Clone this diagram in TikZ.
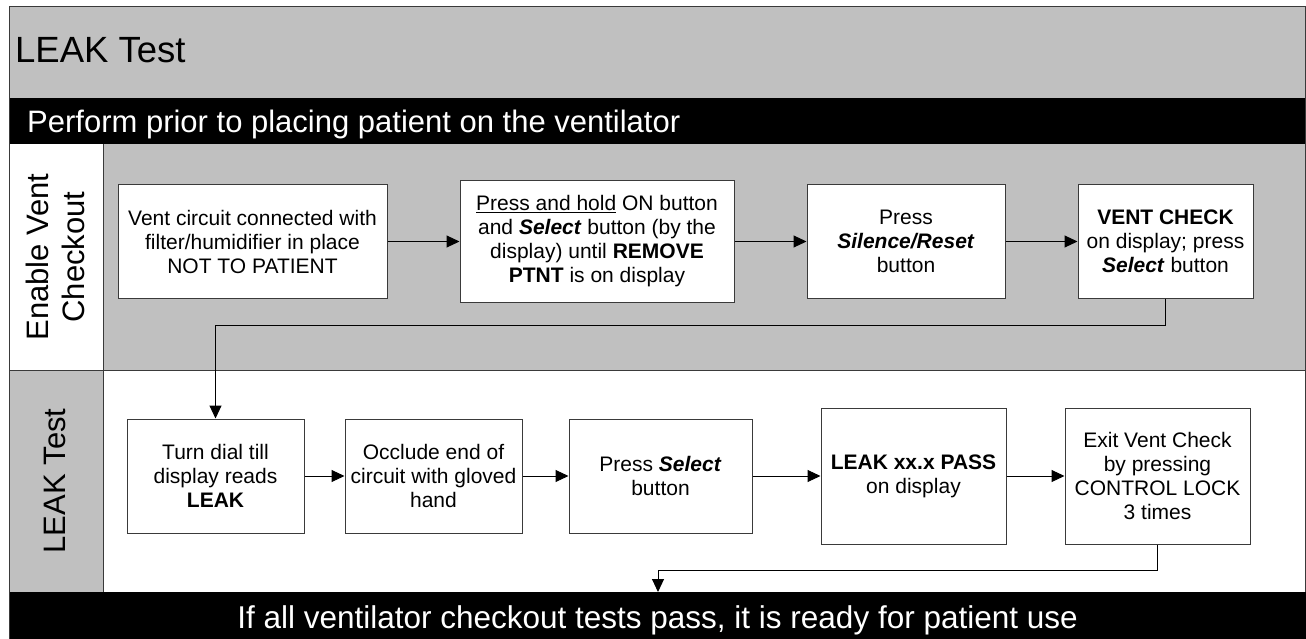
\documentclass[tikz,border=0pt]{standalone}
\usepackage{fontspec}
\setmainfont{Liberation Sans}
\usetikzlibrary{arrows.meta}
\definecolor{lanegray}{HTML}{C0C0C0}
\definecolor{edge}{HTML}{3A3A3A}
\tikzset{
  stepbox/.style={draw=edge, line width=1pt, fill=white, rectangle, inner sep=0pt, align=center,
    font=\fontsize{21}{24}\selectfont},
  arr/.style={draw=black, line width=1pt, -{Triangle[length=13pt,width=12pt]}},
  frameline/.style={draw=edge, line width=1pt},
  lanelabel/.style={rotate=90, align=center, inner sep=0pt, font=\fontsize{31}{36}\selectfont}
}
\begin{document}
\begin{tikzpicture}[x=1pt,y=-1pt]
\useasboundingbox (0,0) rectangle (1306,639);
% backgrounds
\fill[lanegray] (9,7) rectangle (1305,98);
\fill[black] (9,98) rectangle (1306,144);
\fill[white] (9,144) rectangle (103,370);
\fill[lanegray] (103,144) rectangle (1305,370);
\fill[lanegray] (9,370) rectangle (103,592);
\fill[white] (103,370) rectangle (1305,592);
\node[fill=black, inner sep=0pt, minimum width=1297pt, minimum height=47pt, anchor=north west] (foot) at (9,592) {};
% frame and lane lines
\draw[frameline] (9,639) -- (9,7) -- (1305,7) -- (1305,592);
\draw[frameline] (9,370) -- (1305,370);
\draw[frameline] (103,144) -- (103,592);
% texts of bands
\node[anchor=base west, inner sep=0pt, font=\fontsize{36.5}{40}\selectfont] (title) at (15,63) {LEAK Test};
\node[anchor=base west, inner sep=0pt, text=white, font=\fontsize{31}{34}\selectfont] (head) at (27,133) {Perform prior to placing patient on the ventilator};
\node[anchor=base, inner sep=0pt, text=white, font=\fontsize{31.5}{34}\selectfont] (foottext) at (657.5,628) {If all ventilator checkout tests pass, it is ready for patient use};
% lane labels
\node[lanelabel] (lane1) at (55,257) {Enable Vent\\Checkout};
\node[lanelabel] (lane2) at (55,481) {LEAK Test};
% lane 1 boxes
\node[stepbox, minimum width=269pt, minimum height=113pt] (A) at (252.5,241.5)
  {Vent circuit connected with\\filter/humidifier in place\\NOT TO PATIENT};
\node[stepbox, minimum width=274pt, minimum height=121pt] (B) at (597,241.5)
  {\underline{Press and hold} ON button\\and \textbf{\textit{Select}} button (by the\\display) until \textbf{REMOVE}\\\textbf{PTNT} is on display};
\node[stepbox, minimum width=198pt, minimum height=113pt] (C) at (906,241.5)
  {Press\\\textbf{\textit{Silence/Reset}}\\button};
\node[stepbox, minimum width=175pt, minimum height=113pt] (D) at (1165.5,241.5)
  {\textbf{VENT CHECK}\\on display; press\\\textbf{\textit{Select}} button};
% lane 2 boxes
\node[stepbox, minimum width=177pt, minimum height=114pt] (E) at (215.5,476)
  {Turn dial till\\display reads\\\textbf{LEAK}};
\node[stepbox, minimum width=177pt, minimum height=114pt] (F) at (433.5,476)
  {Occlude end of\\circuit with gloved\\hand};
\node[stepbox, minimum width=183pt, minimum height=114pt] (G) at (660.5,476)
  {Press \textbf{\textit{Select}}\\button};
\node[stepbox, minimum width=185pt, minimum height=136pt] (H) at (913.5,476)
  {\textbf{LEAK xx.x PASS}\\on display};
\node[stepbox, minimum width=185pt, minimum height=136pt] (I) at (1157.5,476)
  {Exit Vent Check\\by pressing\\CONTROL LOCK\\3 times};
% connectors
\draw[arr] (A) -- (B);
\draw[arr] (B) -- (C);
\draw[arr] (C) -- (D);
\draw[arr] (D.south) -- ++(0,27) -| (E.north);
\draw[arr] (E) -- (F);
\draw[arr] (F) -- (G);
\draw[arr] (G) -- (H);
\draw[arr] (H) -- (I);
\coordinate (fin) at (658,592);
\draw[arr] (I.south) -- ++(0,26) -| (fin);
\end{tikzpicture}
\end{document}
